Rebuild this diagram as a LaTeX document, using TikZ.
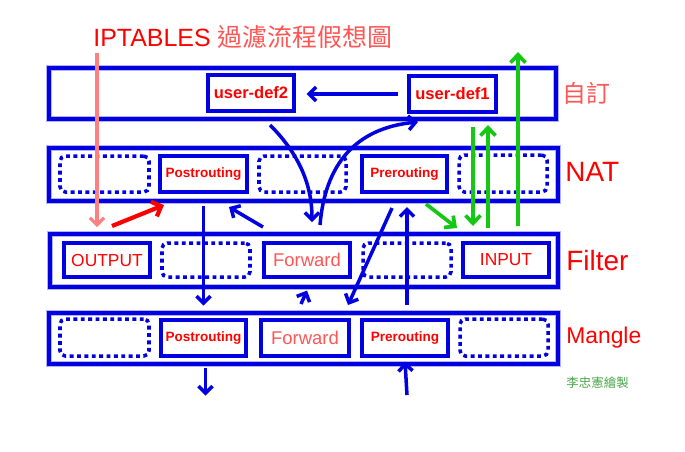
\documentclass[tikz,border=0pt]{standalone}
\usepackage{fontspec}
\setmainfont{Liberation Sans}
\newfontfamily\cjk{Noto Sans CJK TC}
\usepackage{xcolor}
\usepackage{tikz}
\usetikzlibrary{arrows.meta}
\usetikzlibrary{fit}
\definecolor{bandblue}{RGB}{0,0,225}
\definecolor{salmon}{RGB}{255,85,85}
\definecolor{pinkline}{RGB}{255,128,128}
\definecolor{greenline}{RGB}{20,200,20}
\definecolor{creditgreen}{RGB}{70,165,70}

\begin{document}
\begin{tikzpicture}[x=0.02cm,y=-0.02cm,
    band/.style={draw=blue!30,double=bandblue,double distance=2.4pt,line width=0.7pt,inner sep=0pt},
    box/.style={draw=bandblue,line width=1.8pt,inner sep=0pt},
    dotbox/.style={draw=bandblue,line width=2pt,dash pattern=on 2.2pt off 2pt,rounded corners=3pt,inner sep=0pt},
    hooktext/.style={text=red,font=\bfseries\fontsize{7.7}{9}\selectfont},
    udtext/.style={text=red,font=\bfseries\fontsize{9.4}{11}\selectfont},
    plaintext/.style={text=red,font=\fontsize{9.9}{12}\selectfont},
    fwdtext/.style={text=salmon,font=\fontsize{10.5}{12}\selectfont},
    tablename/.style={anchor=west,inner sep=0pt,text=red},
    flow/.style={draw=bandblue,line width=2pt,-{Straight Barb[length=4pt,width=8pt]}},
    greenflow/.style={draw=greenline,line width=2.1pt,-{Straight Barb[length=4.5pt,width=8.5pt]}},
    gluept/.style={fill=bandblue}]
    \useasboundingbox (0,0) rectangle (685,451);

    % title
    \node[anchor=west,inner sep=0pt,font=\fontsize{14.2}{17}\selectfont] (title) at (93,37)
        {\textcolor{red}{IPTABLES} \textcolor{salmon}{\cjk 過濾流程假想圖}};

    % the four bands
    \node[band,fit={(49,68)(556,119)}] (user) {};
    \node[band,fit={(49,148)(558,201)}] (nat) {};
    \node[band,fit={(50,234)(558,287)}] (filter) {};
    \node[band,fit={(49,313)(558,364)}] (mangle) {};

    % user defined chains
    \node[box,fit={(208,75)(294,111)},label={[udtext]center:user-def2}] (ud2) {};
    \node[box,fit={(409,76)(496,112)},label={[udtext]center:user-def1}] (ud1) {};

    % NAT
    \node[dotbox,fit={(60,156)(149,192)}] (natA) {};
    \node[box,fit={(160,156)(247,192)},label={[hooktext]center:Postrouting}] (natpost) {};
    \node[dotbox,fit={(259,156)(346,192)}] (natB) {};
    \node[box,fit={(362,156)(447,192)},label={[hooktext]center:Prerouting}] (natpre) {};
    \node[dotbox,fit={(459,155)(547,192)}] (natC) {};

    % Filter
    \node[box,fit={(64,243)(150,277)},label={[plaintext]center:OUTPUT}] (output) {};
    \node[dotbox,fit={(162,243)(250,277)}] (filA) {};
    \node[box,fit={(264,243)(350,277)},label={[fwdtext]center:Forward}] (filfwd) {};
    \node[dotbox,fit={(363,243)(451,277)}] (filB) {};
    \node[box,fit={(463,243)(549,277)},label={[plaintext]center:INPUT}] (input) {};

    % Mangle
    \node[dotbox,fit={(60,319)(149,356)}] (manA) {};
    \node[box,fit={(161,320)(246,356)},label={[hooktext]center:Postrouting}] (manpost) {};
    \node[box,fit={(261,320)(349,356)},label={[fwdtext]center:Forward}] (manfwd) {};
    \node[box,fit={(362,320)(448,356)},label={[hooktext]center:Prerouting}] (manpre) {};
    \node[dotbox,fit={(460,319)(548,356)}] (manB) {};

    % table names
    \node[tablename,text=salmon,font=\cjk\fontsize{13.6}{16}\selectfont] (lbluser) at (562,93) {自訂};
    \node[tablename,font=\fontsize{15.9}{18}\selectfont] (lblnat) at (565,172) {NAT};
    \node[tablename,font=\fontsize{15.9}{18}\selectfont] (lblfilter) at (566,261) {Filter};
    \node[tablename,font=\fontsize{13}{15}\selectfont] (lblmangle) at (566,338) {Mangle};
    \node[tablename,text=creditgreen,font=\cjk\fontsize{7.1}{9}\selectfont] (credit) at (566,383) {李忠憲繪製};

    % glue points
    \foreach \gx/\gy in {496/68,496/119,496/148,496/201,203/201,301/201,97/234,301/234,
        97/287,197/287,301/287,417/287,197/313,300/313,345/313,417/313,497/313,197/364,416/364,498/364}
        \fill[gluept] (\gx-1.6,\gy-1.6) rectangle ++(3.2,3.2);

    % free ends
    \coordinate (pinktop) at (97,53);
    \coordinate (pinkend) at (97,227);
    \coordinate (redfrom) at (112,226);
    \coordinate (redto) at (164,205);
    \coordinate (backfrom) at (263,227);
    \coordinate (backto) at (229,207);
    \coordinate (curvein) at (270,125);
    \coordinate (curvedown) at (312,222);
    \coordinate (curveup) at (320,225);
    \coordinate (curveout) at (418,122);
    \coordinate (slantfrom) at (392,208);
    \coordinate (slantto) at (348,305);

    % connectors
    \draw[pinkline,line width=1.8pt,-{Straight Barb[length=4pt,width=8pt]}] (pinktop) -- (pinkend);
    \draw[red,line width=2.4pt,-{Straight Barb[length=4.5pt,width=9pt]}] (redfrom) -- (redto);
    \draw[flow] (backfrom) -- (backto);
    \draw[flow] ([xshift=-0.18cm]ud1.west) -- ([xshift=0.22cm,yshift=-0.02cm]ud2.east);
    \draw[flow] (curvein) .. controls (295,150) and (312,180) .. (curvedown);
    \draw[flow] (curveup) .. controls (325,165) and (355,128) .. (curveout);
    \draw[flow] ([yshift=-0.24cm]natpost.south) -- ++(0,100);
    \draw[flow] (slantfrom) -- (slantto);
    \draw[flow] (407,305) -- (407,207);
    \draw[flow] (407,395) -- ([yshift=-0.08cm]manpre.south);
    \draw[flow] (301,304) -- ([yshift=-0.24cm]filfwd.south);
    \draw[flow] ([yshift=-0.02cm]manpost.south) ++(2,9) -- ++(0,28);
    \draw[greenflow] (426,204) -- (457,228);
    \draw[greenflow] (473,127) -- (473,226);
    \draw[greenflow] (488,228) -- (488,125);
    \draw[greenflow] (518,226) -- (518,52);
\end{tikzpicture}
\end{document}
